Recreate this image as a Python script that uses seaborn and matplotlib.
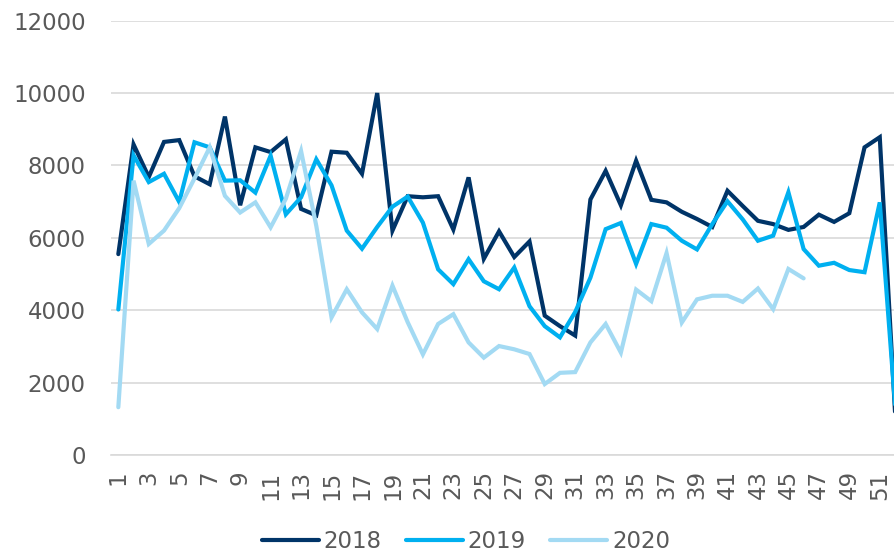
import matplotlib
matplotlib.use("Agg")
import matplotlib.pyplot as plt
import numpy as np
import pandas as pd
import seaborn as sns

# weekly values
weeks = list(range(1, 53))
values_2018 = [5550, 8580, 7680, 8650, 8700, 7700, 7480, 9350, 6900, 8500,
               8370, 8720, 6800, 6620, 8380, 8350, 7770, 10000, 6200, 7150,
               7120, 7150, 6230, 7670, 5420, 6180, 5470, 5900, 3850, 3560,
               3300, 7060, 7850, 6900, 8130, 7050, 6980, 6720, 6520, 6300,
               7300, 6880, 6470, 6380, 6220, 6300, 6640, 6440, 6680, 8500,
               8780, 1200]
values_2019 = [4020, 8280, 7540, 7770, 6990, 8640, 8500, 7580, 7590, 7250,
               8270, 6650, 7120, 8170, 7450, 6200, 5700, 6300, 6860, 7140,
               6420, 5130, 4720, 5410, 4800, 4580, 5180, 4110, 3560, 3250,
               3950, 4900, 6240, 6410, 5280, 6380, 6280, 5920, 5680, 6380,
               7010, 6510, 5920, 6060, 7260, 5690, 5230, 5310, 5110, 5050,
               6980, 1400]
values_2020 = [1320, 7580, 5830, 6200, 6820, 7640, 8500, 7160, 6700, 6980,
               6290, 7080, 8400, 6330, 3800, 4580, 3940, 3480, 4680, 3670,
               2780, 3620, 3890, 3110, 2690, 3010, 2920, 2790, 1960, 2270,
               2290, 3110, 3620, 2830, 4570, 4250, 5580, 3660, 4300, 4400,
               4400, 4230, 4600, 4030, 5140, 4880] + [np.nan] * 6
years = ["2018", "2019", "2020"]
colors = {"2018": "#003468", "2019": "#00B0F0", "2020": "#A3DAF3"}
ytick_values = list(range(0, 12001, 2000))
xtick_weeks = weeks[::2]

df = pd.DataFrame({
    "week": weeks * 3,
    "value": values_2018 + values_2019 + values_2020,
    "year": [y for y in years for _ in weeks],
}).dropna()

sns.set_theme(style="white")
plt.rcParams["font.family"] = ["DejaVu Sans"]
text_color = "#595959"
grid_color = "#D9D9D9"

fig = plt.figure(figsize=(8.95, 5.54), dpi=100)
ax = fig.add_axes([0.1237, 0.1787, 0.8848, 0.784])

sns.lineplot(data=df, x="week", y="value", hue="year", palette=colors,
             linewidth=3, legend=False, ax=ax, clip_on=False)
for line in ax.get_lines():
    line.set_solid_capstyle("round")
    line.set_solid_joinstyle("miter")

ax.set_xlim(0.5, 52.5)
ax.set_ylim(0, 12000)
ax.set_xticks(xtick_weeks)
ax.set_xticklabels([str(w) for w in xtick_weeks])
ax.set_yticks(ytick_values)
ax.set_yticklabels([str(v) for v in ytick_values])
ax.set_xlabel("")
ax.set_ylabel("")

ax.grid(axis="y", color=grid_color, linewidth=1.2)
ax.set_axisbelow(True)
for side in ["top", "right", "left"]:
    ax.spines[side].set_visible(False)
ax.spines["bottom"].set_color(grid_color)
ax.spines["bottom"].set_linewidth(1.2)

ax.tick_params(axis="x", rotation=90, length=0, pad=11, labelsize=16.5, colors=text_color)
ax.tick_params(axis="y", length=0, pad=18, labelsize=16.5, colors=text_color)

handles = ax.get_lines()[:3]
leg = fig.legend(handles, years, loc="center", bbox_to_anchor=(466 / 895, 0.0217),
                 ncol=3, frameon=False, handlelength=2.5, handletextpad=0.2,
                 columnspacing=1.05, fontsize=16.5)
for t in leg.get_texts():
    t.set_color(text_color)

fig.savefig("out.png", dpi=100)
plt.close(fig)
